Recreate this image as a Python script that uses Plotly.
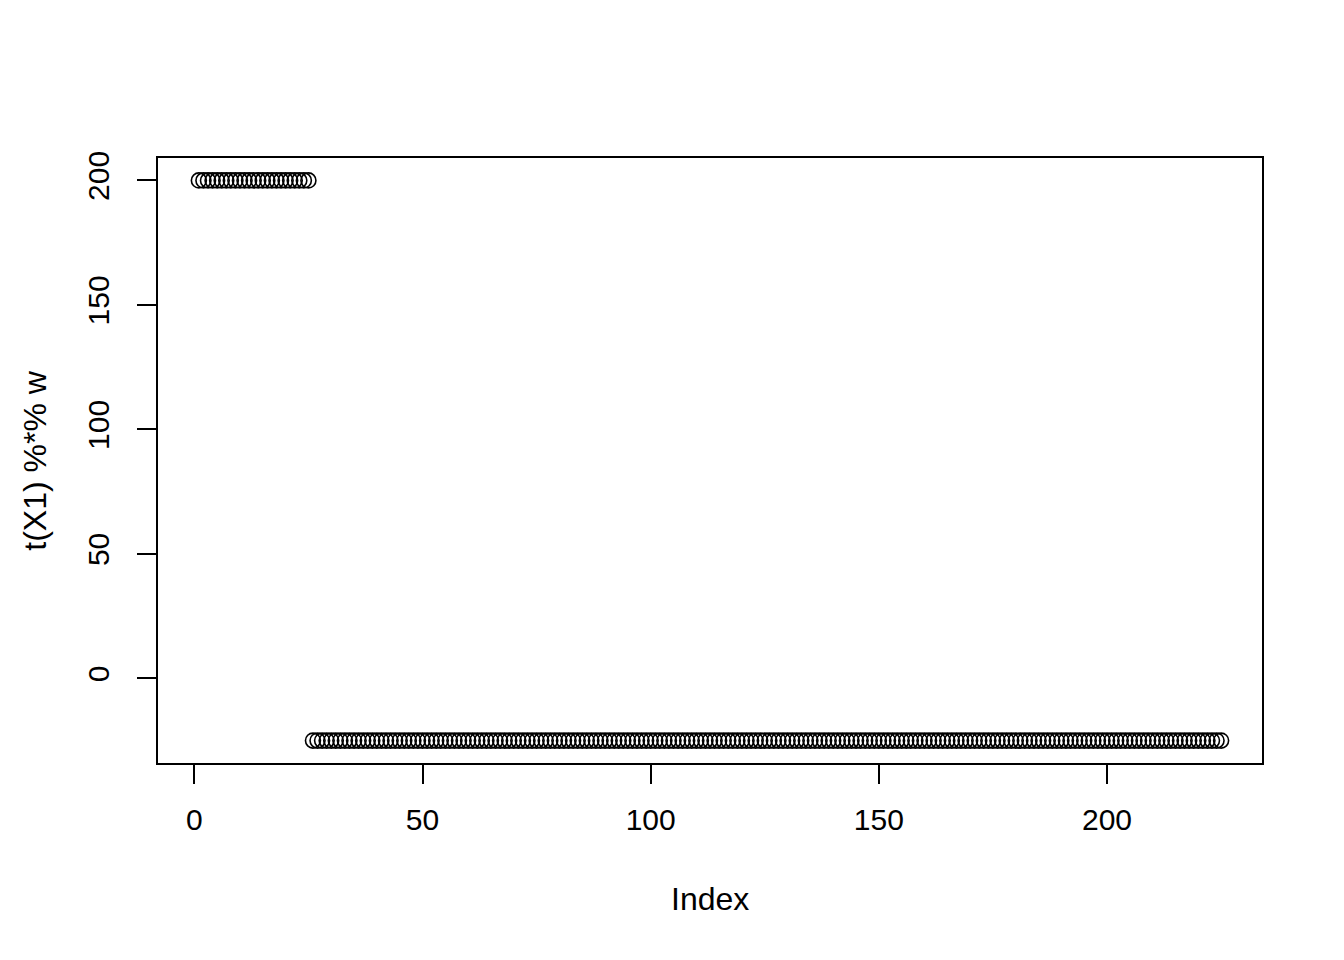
import plotly.graph_objects as go

# Values: first 25 points at 200, remaining 200 at -25
values_high = [
    200, 200, 200, 200, 200, 200, 200, 200, 200, 200,
    200, 200, 200, 200, 200, 200, 200, 200, 200, 200,
    200, 200, 200, 200, 200,
]
values_low = [
    -25, -25, -25, -25, -25, -25, -25, -25, -25, -25, -25, -25, -25, -25, -25, -25, -25, -25, -25, -25,
    -25, -25, -25, -25, -25, -25, -25, -25, -25, -25, -25, -25, -25, -25, -25, -25, -25, -25, -25, -25,
    -25, -25, -25, -25, -25, -25, -25, -25, -25, -25, -25, -25, -25, -25, -25, -25, -25, -25, -25, -25,
    -25, -25, -25, -25, -25, -25, -25, -25, -25, -25, -25, -25, -25, -25, -25, -25, -25, -25, -25, -25,
    -25, -25, -25, -25, -25, -25, -25, -25, -25, -25, -25, -25, -25, -25, -25, -25, -25, -25, -25, -25,
    -25, -25, -25, -25, -25, -25, -25, -25, -25, -25, -25, -25, -25, -25, -25, -25, -25, -25, -25, -25,
    -25, -25, -25, -25, -25, -25, -25, -25, -25, -25, -25, -25, -25, -25, -25, -25, -25, -25, -25, -25,
    -25, -25, -25, -25, -25, -25, -25, -25, -25, -25, -25, -25, -25, -25, -25, -25, -25, -25, -25, -25,
    -25, -25, -25, -25, -25, -25, -25, -25, -25, -25, -25, -25, -25, -25, -25, -25, -25, -25, -25, -25,
    -25, -25, -25, -25, -25, -25, -25, -25, -25, -25, -25, -25, -25, -25, -25, -25, -25, -25, -25, -25,
]
values = values_high + values_low
index = list(range(1, len(values) + 1))

x_ticks = [0, 50, 100, 150, 200]
y_ticks = [0, 50, 100, 150, 200]
x_title = "Index"
y_title = "t(X1) %*% w"

FONT = "Liberation Sans, Arial, Helvetica, sans-serif"
FS_TICK = 30
FS_TITLE = 32

fig = go.Figure()
fig.add_trace(go.Scatter(
    x=index, y=values, mode="markers",
    marker=dict(symbol="circle-open", size=15, color="black", line=dict(width=1.6, color="black")),
    showlegend=False, hoverinfo="skip",
))

fig.update_layout(
    width=1344, height=960,
    margin=dict(l=150, r=90, t=150, b=205),
    paper_bgcolor="white", plot_bgcolor="white",
    font=dict(family=FONT, size=FS_TICK, color="black"),
    xaxis=dict(
        range=[-7.96, 233.96], tickvals=x_ticks, ticktext=[str(v) for v in x_ticks],
        ticks="outside", ticklen=19, tickwidth=1.6, tickcolor="black",
        showline=True, linecolor="black", linewidth=1.6, mirror=True,
        showgrid=False, zeroline=False, ticklabelstandoff=10,
        tickfont=dict(family=FONT, size=FS_TICK, color="black"),
    ),
    yaxis=dict(
        range=[-34, 209], tickvals=y_ticks, ticktext=[str(v) for v in y_ticks],
        ticks="outside", ticklen=19, tickwidth=1.6, tickcolor="black",
        showline=True, linecolor="black", linewidth=1.6, mirror=True,
        showgrid=False, zeroline=False, tickangle=-90, ticklabelstandoff=16,
        tickfont=dict(family=FONT, size=FS_TICK, color="black"),
    ),
    annotations=[
        dict(text=x_title, xref="paper", yref="paper", x=0.5, y=-(900 - 764) / 607,
             xanchor="center", yanchor="middle", showarrow=False,
             font=dict(family=FONT, size=FS_TITLE, color="black")),
        dict(text=y_title, xref="paper", yref="paper", x=(33 - 157) / 1106, y=0.5,
             xanchor="center", yanchor="middle", textangle=-90, showarrow=False,
             font=dict(family=FONT, size=FS_TITLE, color="black")),
    ],
)

fig.write_html("out.html")
